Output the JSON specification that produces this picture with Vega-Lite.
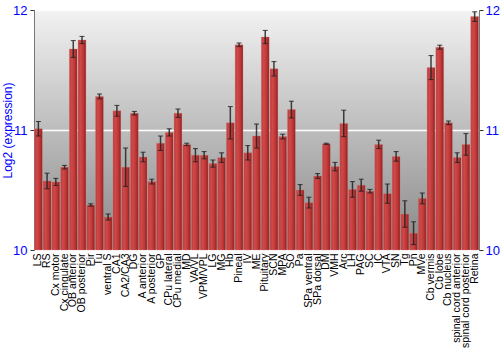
{
  "$schema": "https://vega.github.io/schema/vega-lite/v6.json",
  "autosize": "none",
  "width": 445,
  "height": 240,
  "padding": {"left": 34, "top": 10, "right": 21, "bottom": 100},
  "background": "white",
  "config": {
    "font": "Liberation Sans",
    "view": {
      "stroke": "#777777",
      "strokeWidth": 1,
      "fill": {"gradient": "linear", "x1": 0, "y1": 0, "x2": 0, "y2": 1, "stops": [{"offset": 0, "color": "#f2f2f2"}, {"offset": 0.5, "color": "#bcbcbc"}, {"offset": 1, "color": "#888888"}]}
    }
  },
  "data": {"values": [
    {"region": "LS", "v": 11.01, "e": 0.06},
    {"region": "RS", "v": 10.575, "e": 0.065},
    {"region": "Cx motor", "v": 10.567, "e": 0.03},
    {"region": "Cx cingulate", "v": 10.69, "e": 0.015},
    {"region": "OB anterior", "v": 11.675, "e": 0.07},
    {"region": "OB posterior", "v": 11.75, "e": 0.03},
    {"region": "Pir", "v": 10.375, "e": 0.01},
    {"region": "Tu", "v": 11.28, "e": 0.02},
    {"region": "ventral S", "v": 10.275, "e": 0.025},
    {"region": "CA1", "v": 11.16, "e": 0.045},
    {"region": "CA2/CA3", "v": 10.69, "e": 0.16},
    {"region": "DG", "v": 11.14, "e": 0.015},
    {"region": "A anterior", "v": 10.775, "e": 0.04},
    {"region": "A posterior", "v": 10.57, "e": 0.02},
    {"region": "GP", "v": 10.89, "e": 0.06},
    {"region": "CPu lateral", "v": 10.98, "e": 0.03},
    {"region": "CPu medial", "v": 11.14, "e": 0.035},
    {"region": "MD", "v": 10.88, "e": 0.01},
    {"region": "VA/VL", "v": 10.79, "e": 0.055},
    {"region": "VPM/VPL", "v": 10.79, "e": 0.03},
    {"region": "LG", "v": 10.72, "e": 0.03},
    {"region": "MG", "v": 10.77, "e": 0.04},
    {"region": "Hb", "v": 11.06, "e": 0.135},
    {"region": "Pineal", "v": 11.71, "e": 0.015},
    {"region": "IV", "v": 10.81, "e": 0.06},
    {"region": "ME", "v": 10.95, "e": 0.1},
    {"region": "Pituitary", "v": 11.775, "e": 0.055},
    {"region": "SCN", "v": 11.51, "e": 0.06},
    {"region": "MPA", "v": 10.945, "e": 0.02},
    {"region": "SO", "v": 11.17, "e": 0.07},
    {"region": "Pa", "v": 10.5, "e": 0.045},
    {"region": "SPa ventral", "v": 10.395, "e": 0.045},
    {"region": "SPa dorsal", "v": 10.617, "e": 0.02},
    {"region": "DM", "v": 10.885, "e": 0.005},
    {"region": "VMH", "v": 10.695, "e": 0.035},
    {"region": "Arc", "v": 11.055, "e": 0.11},
    {"region": "LH", "v": 10.505, "e": 0.065},
    {"region": "PAG", "v": 10.54, "e": 0.05},
    {"region": "SC", "v": 10.49, "e": 0.015},
    {"region": "IC", "v": 10.88, "e": 0.035},
    {"region": "VTA", "v": 10.47, "e": 0.08},
    {"region": "SN", "v": 10.78, "e": 0.04},
    {"region": "Tg", "v": 10.3, "e": 0.11},
    {"region": "Pn", "v": 10.14, "e": 0.095},
    {"region": "MVe", "v": 10.43, "e": 0.045},
    {"region": "Cb vermis", "v": 11.52, "e": 0.1},
    {"region": "Cb lobe", "v": 11.69, "e": 0.017},
    {"region": "Cb nucleus", "v": 11.06, "e": 0.015},
    {"region": "spinal cord anterior", "v": 10.77, "e": 0.04},
    {"region": "spinal cord posterior", "v": 10.88, "e": 0.09},
    {"region": "Retina", "v": 11.945, "e": 0.04}
  ]},
  "encoding": {
    "x": {
      "field": "region", "type": "nominal", "sort": null,
      "scale": {"paddingInner": 0.1, "paddingOuter": 0.05},
      "axis": {"title": null, "labelAngle": -90, "labelFontSize": 10.5, "labelColor": "black", "domain": false, "ticks": false, "labelPadding": 3}
    }
  },
  "layer": [
    {
      "mark": {"type": "bar", "stroke": "#d88080", "strokeOpacity": 0.4, "strokeWidth": 0.8,
        "color": {"gradient": "linear", "x1": 0, "y1": 0, "x2": 1, "y2": 0, "stops": [{"offset": 0, "color": "#b83c3c"}, {"offset": 0.3, "color": "#d04848"}, {"offset": 0.7, "color": "#bd3535"}, {"offset": 1, "color": "#8a1e1e"}]}},
      "encoding": {
        "y": {"field": "v", "type": "quantitative",
          "scale": {"domain": [10, 12], "zero": false, "nice": false},
          "axis": {"title": "Log2 (expression)", "titleColor": "#0000ff", "titleFontSize": 12, "titleFontWeight": "normal", "titleX": -20, "labelColor": "#0000ff", "labelFontSize": 13, "format": ".0f", "values": [10, 11, 12], "labelOverlap": false, "grid": true, "gridColor": "white", "gridWidth": 1.5, "domainColor": "#777777", "tickColor": "#333333", "tickSize": 4, "labelPadding": 3}},
        "y2": {"datum": 10}
      }
    },
    {
      "mark": {"type": "errorbar", "ticks": {"size": 5, "color": "#222222", "opacity": 0.85}, "rule": {"color": "#222222", "opacity": 0.85, "strokeWidth": 1.5}},
      "encoding": {
        "y": {"field": "v", "type": "quantitative", "axis": null},
        "yError": {"field": "e"}
      }
    },
    {
      "mark": {"type": "rule", "opacity": 0},
      "encoding": {
        "y": {"field": "v", "type": "quantitative",
          "axis": {"orient": "right", "title": null, "labelColor": "#0000ff", "labelFontSize": 13, "format": ".0f", "values": [10, 11, 12], "labelOverlap": false, "grid": false, "domainColor": "#777777", "tickColor": "#333333", "tickSize": 4, "labelPadding": 2}}
      }
    }
  ],
  "resolve": {"axis": {"y": "independent"}, "scale": {"y": "shared"}}
}
